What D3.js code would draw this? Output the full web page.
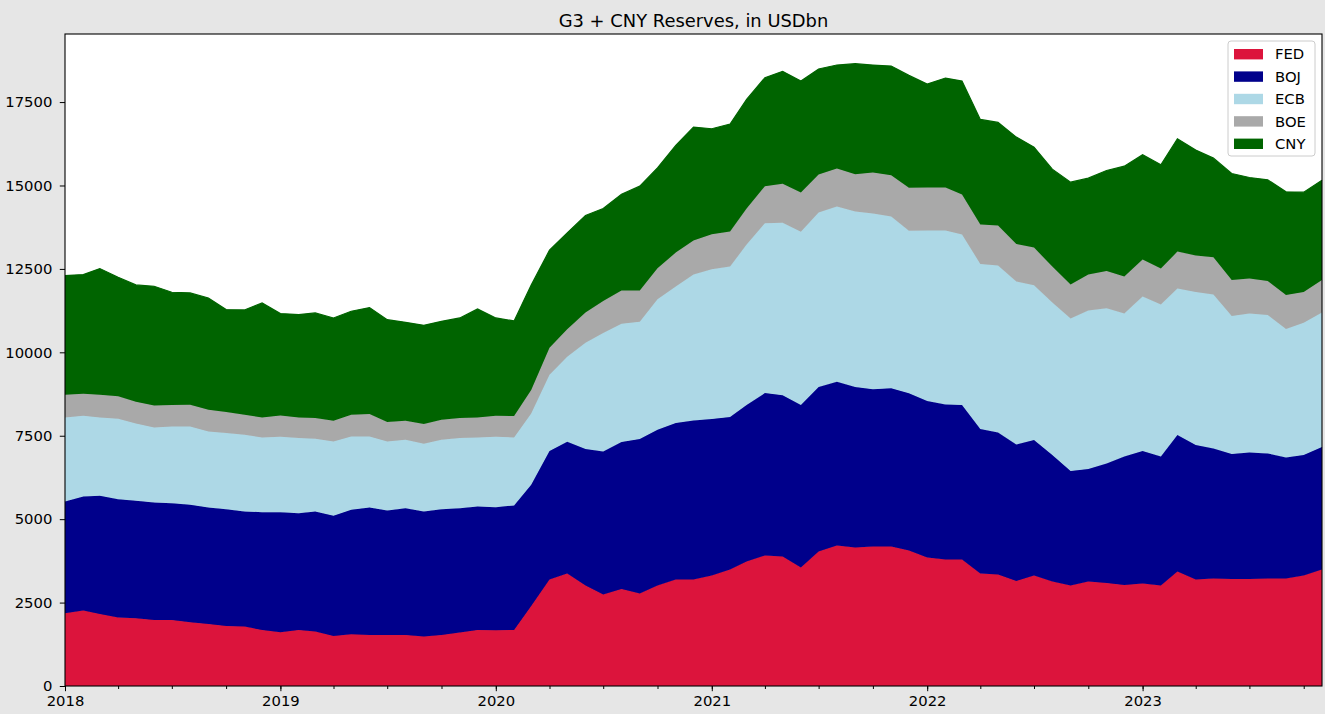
<!DOCTYPE html>
<html>
<head>
<meta charset="utf-8">
<script src="https://cdn.jsdelivr.net/npm/d3@7"></script>
<style>
  body { margin: 0; background: #e6e6e6; }
  svg { display: block; font-family: "DejaVu Sans", sans-serif; }
</style>
</head>
<body>
<div id="chart"></div>
<script>
// monthly, 2018-01 .. 2023-11
const months = d3.timeMonth.range(new Date(2018, 0, 1), new Date(2023, 11, 1));

const keys = ["FED", "BOJ", "ECB", "BOE", "CNY"];
const colors = ["#dc143c", "#00008b", "#add8e6", "#a9a9a9", "#006400"];

const fed = [2180, 2260, 2160, 2050, 2030, 1980, 1980, 1910, 1860, 1800, 1780, 1680,
  1610, 1680, 1630, 1500, 1550, 1530, 1530, 1530, 1480, 1530, 1600, 1680,
  1670, 1680, 2400, 3190, 3370, 3010, 2740, 2910, 2770, 3010, 3190, 3190,
  3310, 3490, 3730, 3910, 3880, 3550, 4030, 4210, 4150, 4180, 4180, 4060,
  3850, 3790, 3790, 3370, 3340, 3150, 3310, 3130, 3010, 3130, 3090, 3030,
  3070, 3010, 3430, 3190, 3220, 3210, 3210, 3220, 3220, 3310, 3490];
const boj = [3350, 3420, 3540, 3550, 3520, 3520, 3500, 3520, 3490, 3500, 3450, 3530,
  3600, 3500, 3600, 3600, 3730, 3820, 3730, 3800, 3750, 3770, 3730, 3700,
  3690, 3730, 3630, 3850, 3950, 4090, 4290, 4400, 4630, 4670, 4690, 4770,
  4690, 4570, 4690, 4870, 4830, 4870, 4930, 4910, 4810, 4710, 4740, 4710,
  4690, 4650, 4630, 4330, 4260, 4090, 4060, 3790, 3430, 3370, 3580, 3850,
  3970, 3870, 4090, 4030, 3900, 3740, 3790, 3750, 3630, 3610, 3670];
const ecb = [2520, 2420, 2350, 2410, 2320, 2250, 2300, 2350, 2280, 2280, 2300, 2240,
  2260, 2250, 2180, 2230, 2200, 2130, 2070, 2050, 2030, 2080, 2100, 2070,
  2110, 2040, 2140, 2290, 2550, 3190, 3550, 3550, 3520, 3910, 4090, 4370,
  4490, 4510, 4810, 5090, 5170, 5190, 5230, 5250, 5260, 5270, 5150, 4870,
  5110, 5210, 5110, 4950, 5000, 4880, 4640, 4570, 4570, 4750, 4650, 4280,
  4630, 4550, 4390, 4590, 4610, 4140, 4160, 4150, 3850, 3970, 4030];
const boe = [680, 660, 680, 670, 650, 660, 640, 650, 650, 630, 600, 600,
  640, 620, 620, 620, 650, 670, 580, 570, 590, 600, 600, 600,
  630, 640, 700, 810, 820, 900, 960, 990, 930, 930, 1020, 1020,
  1050, 1050, 1080, 1110, 1170, 1180, 1140, 1140, 1120, 1230, 1240, 1290,
  1290, 1290, 1200, 1180, 1200, 1130, 1130, 1080, 1020, 1080, 1120, 1110,
  1110, 1080, 1110, 1090, 1120, 1080, 1050, 1020, 1020, 920, 980];
const cny = [3570, 3570, 3780, 3570, 3500, 3570, 3380, 3350, 3350, 3070, 3140, 3430,
  3050, 3080, 3150, 3080, 3100, 3190, 3070, 2950, 2960, 2950, 3000, 3250,
  2930, 2850, 3150, 2920, 2890, 2910, 2770, 2890, 3130, 3010, 3210, 3400,
  3160, 3220, 3270, 3250, 3370, 3340, 3160, 3100, 3310, 3220, 3270, 3370,
  3100, 3280, 3400, 3150, 3090, 3200, 3010, 2920, 3070, 2890, 3010, 3310,
  3140, 3110, 3380, 3160, 2970, 3190, 3030, 3030, 3090, 2990, 2990];

const yTicks = [0, 2500, 5000, 7500, 10000, 12500, 15000, 17500];
const title = "G3 + CNY Reserves, in USDbn";

const data = months.map((d, i) => ({
  date: d, FED: fed[i], BOJ: boj[i], ECB: ecb[i], BOE: boe[i], CNY: cny[i]
}));

const width = 1325, height = 714;
const margin = { top: 34, right: 3, bottom: 28, left: 65 };

const svg = d3.select("#chart").append("svg")
  .attr("width", width)
  .attr("height", height);

svg.append("rect")
  .attr("width", width).attr("height", height)
  .attr("fill", "#e6e6e6");

const x = d3.scaleTime()
  .domain(d3.extent(months))
  .range([margin.left, width - margin.right]);

const y = d3.scaleLinear()
  .domain([0, 19540])
  .range([height - margin.bottom, margin.top]);

svg.append("rect")
  .attr("x", margin.left).attr("y", margin.top)
  .attr("width", width - margin.left - margin.right)
  .attr("height", height - margin.top - margin.bottom)
  .attr("fill", "white");

const series = d3.stack().keys(keys)(data);
const color = d3.scaleOrdinal().domain(keys).range(colors);

const area = d3.area()
  .x(d => x(d.data.date))
  .y0(d => y(d[0]))
  .y1(d => y(d[1]));

const line = d3.line()
  .x(d => x(d.data.date))
  .y(d => y(d[1]));

const g = svg.append("g");
series.forEach(s => {
  g.append("path")
    .datum(s)
    .attr("fill", color(s.key))
    .attr("d", area);
  g.append("path")
    .datum(s)
    .attr("fill", "none")
    .attr("stroke", color(s.key))
    .attr("stroke-width", 1.2)
    .attr("d", line);
});

// axes
const fontSize = 14.8;

svg.append("g")
  .attr("transform", `translate(0,${height - margin.bottom})`)
  .call(d3.axisBottom(x)
    .tickValues(d3.timeMonth.every(3).range(months[0], months[months.length - 1]))
    .tickSize(3)
    .tickFormat(""))
  .call(g => g.select(".domain").remove());

svg.append("g")
  .attr("transform", `translate(0,${height - margin.bottom})`)
  .call(d3.axisBottom(x)
    .ticks(d3.timeYear)
    .tickFormat(d3.timeFormat("%Y"))
    .tickSize(5.2)
    .tickPadding(4))
  .call(g => g.select(".domain").remove())
  .call(g => g.selectAll("text")
    .attr("font-size", fontSize)
    .attr("font-family", "DejaVu Sans")
    .attr("fill", "#000"));

svg.append("g")
  .attr("transform", `translate(${margin.left},0)`)
  .call(d3.axisLeft(y)
    .tickValues(yTicks)
    .tickFormat(d3.format("d"))
    .tickSize(5.2)
    .tickPadding(7.5))
  .call(g => g.select(".domain").remove())
  .call(g => g.selectAll("text")
    .attr("font-size", fontSize)
    .attr("font-family", "DejaVu Sans")
    .attr("fill", "#000"));

// frame
svg.append("rect")
  .attr("x", margin.left).attr("y", margin.top)
  .attr("width", width - margin.left - margin.right)
  .attr("height", height - margin.top - margin.bottom)
  .attr("fill", "none")
  .attr("stroke", "#000")
  .attr("stroke-width", 1.1);

svg.append("text")
  .attr("x", (margin.left + width - margin.right) / 2)
  .attr("y", 26.5)
  .attr("text-anchor", "middle")
  .attr("font-size", 17.9)
  .attr("fill", "#000")
  .text(title);

// legend
const legend = svg.append("g").attr("transform", "translate(1228,41)");
legend.append("rect")
  .attr("width", 87).attr("height", 115)
  .attr("rx", 3)
  .attr("fill", "white").attr("fill-opacity", 0.8)
  .attr("stroke", "#cccccc");

keys.forEach((k, i) => {
  const row = legend.append("g").attr("transform", `translate(0,${13 + i * 22.4})`);
  row.append("rect")
    .attr("x", 6).attr("y", -5)
    .attr("width", 29).attr("height", 10.4)
    .attr("fill", color(k));
  row.append("text")
    .attr("x", 47).attr("y", 0)
    .attr("dy", "0.36em")
    .attr("font-size", fontSize)
    .attr("fill", "#000")
    .text(k);
});
</script>
</body>
</html>
